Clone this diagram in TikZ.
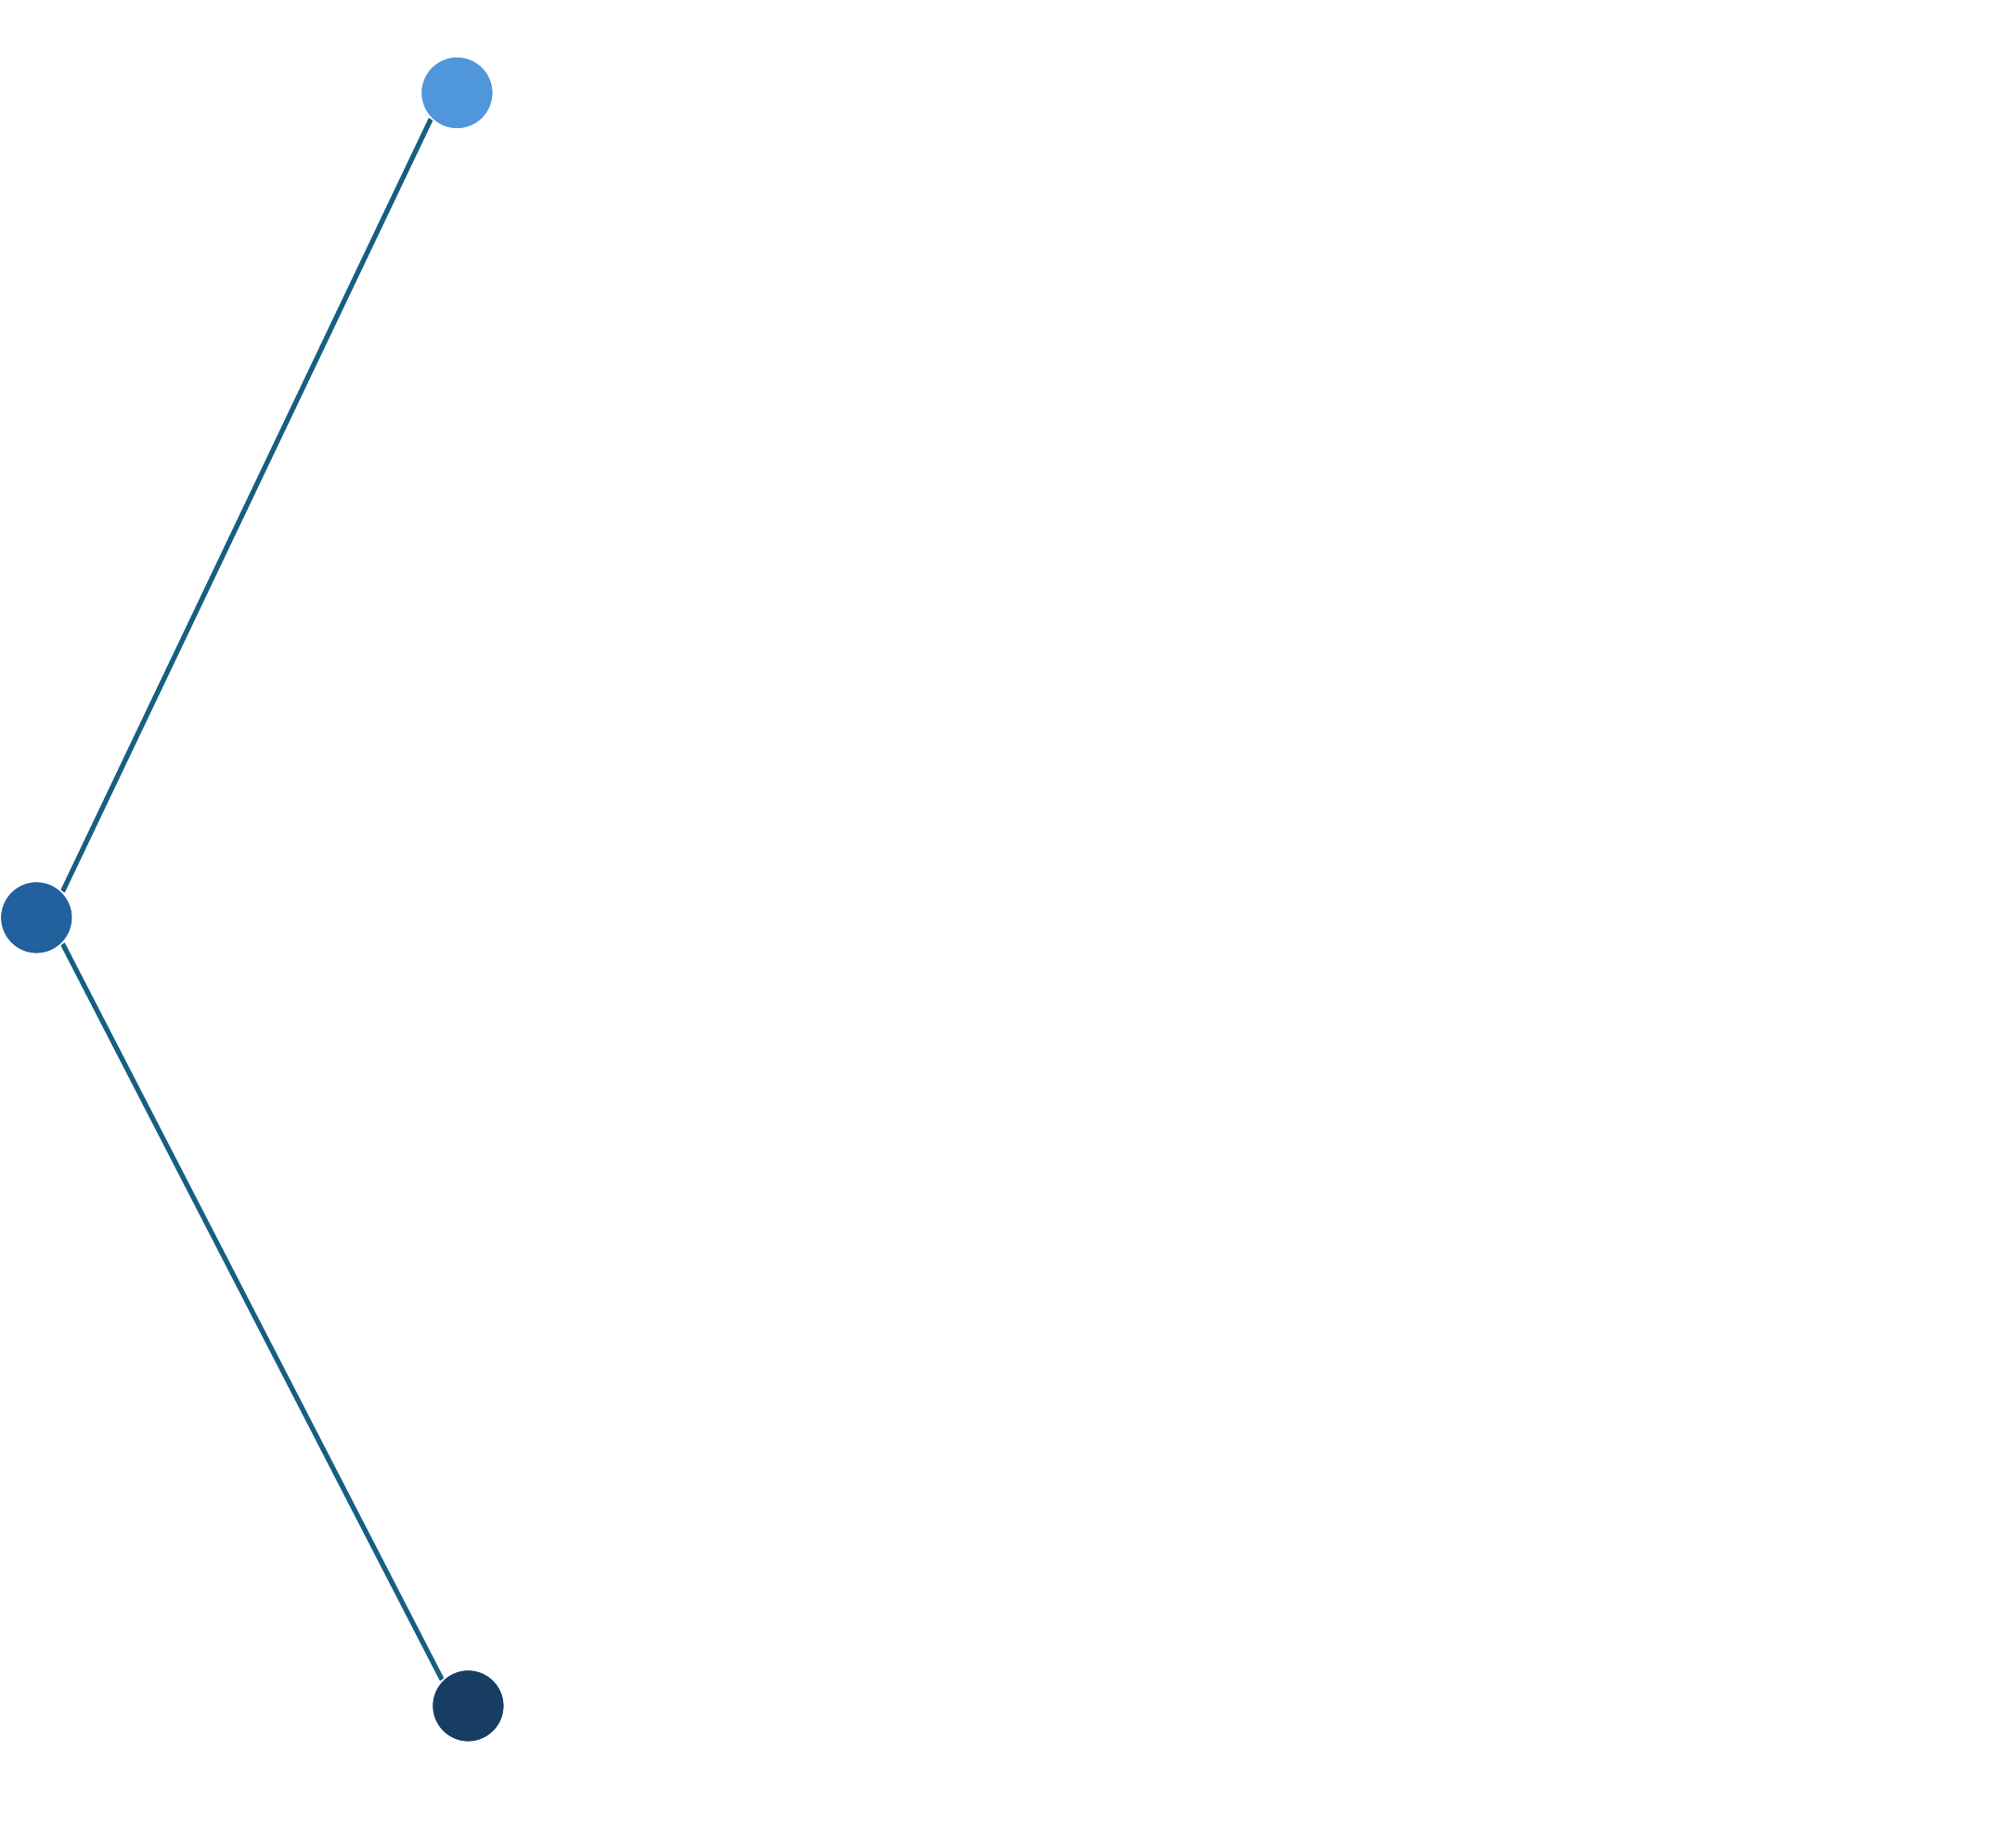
\documentclass[tikz,border=0pt]{standalone}
\usetikzlibrary{backgrounds}
\definecolor{edgec}{HTML}{155F82}
\definecolor{ctop}{HTML}{4F96DB}
\definecolor{cmid}{HTML}{22609E}
\definecolor{cbot}{HTML}{173D63}
\tikzset{
  dot/.style={circle, inner sep=0pt, minimum size=39pt, draw=white, line width=0.8pt},
  link/.style={draw=edgec, line width=2.6pt}
}
\begin{document}
\begin{tikzpicture}[x=1pt,y=1pt]
\useasboundingbox (0,0) rectangle (1086,984.5);
\node[dot, fill=ctop] (top) at (246.2,934.5) {};
\node[dot, fill=cmid] (mid) at (19.65,490.3) {};
\node[dot, fill=cbot] (bot) at (252.2,65.8) {};
\begin{scope}[on background layer]
\draw[link] (mid.north east) -- (top.south west);
\draw[link] (mid.south east) -- (bot.north west);
\end{scope}
\end{tikzpicture}
\end{document}
